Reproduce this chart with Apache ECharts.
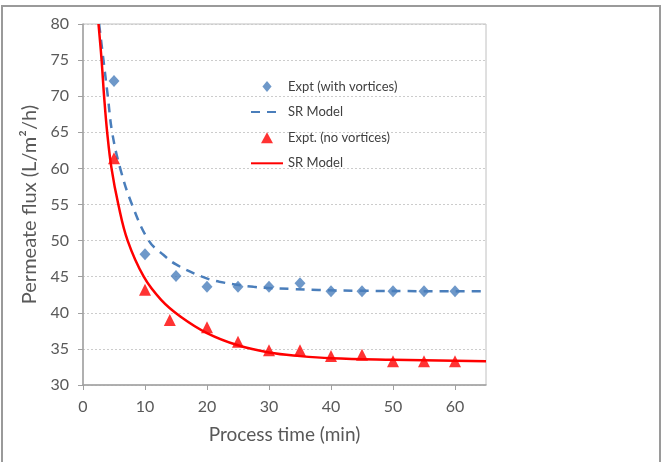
<!DOCTYPE html>
<html>
<head>
<meta charset="utf-8">
<script src="https://cdn.jsdelivr.net/npm/echarts@6/dist/echarts.min.js"></script>
<style>
  html, body { margin: 0; padding: 0; background: #fff; }
  #chart { width: 670px; height: 462px; }
</style>
</head>
<body>
<div id="chart"></div>
<script>
// experimental points (time in min, flux in L/m2/h)
const exptVortices = [[5, 72.1], [10, 48.1], [15, 45.1], [20, 43.6], [25, 43.6], [30, 43.6],
  [35, 44.1], [40, 43.0], [45, 43.0], [50, 43.0], [55, 43.0], [60, 43.0]];
const exptNoVortices = [[5, 61.4], [10, 43.2], [14, 39.0], [20, 38.0], [25, 36.0], [30, 34.8],
  [35, 34.8], [40, 34.0], [45, 34.2], [50, 33.3], [55, 33.3], [60, 33.3]];
// model curves
const modelVortices = [[2.6, 80], [3.3, 75], [4.0, 70], [4.7, 65], [6.0, 60], [7.9, 55],
  [10.6, 50], [13, 48.0], [15, 46.7], [19.2, 45.0], [22, 44.3], [27.5, 43.6], [33.5, 43.3],
  [38, 43.15], [45, 43.05], [55, 43.0], [65, 43.0]];
const modelNoVortices = [[2.5, 80], [3.0, 75], [3.4, 70], [3.9, 65], [4.6, 60], [5.7, 55],
  [7.2, 50], [9.8, 45], [12.6, 41.8], [15.7, 39.5], [20, 37.2], [25, 35.5], [30, 34.5],
  [35, 34.0], [40, 33.7], [50, 33.5], [65, 33.3]];
const seriesNames = ['Expt (with vortices)', 'SR Model', 'Expt. (no vortices)', 'SR Model '];

const blue = '#4a7ebb';
const red = '#ff0000';
const txt = '#595959';
const font = 'Lato';

const chart = echarts.init(document.getElementById('chart'));
chart.setOption({
  animation: false,
  textStyle: { fontFamily: font },
  graphic: [{
    type: 'rect',
    shape: { x: 2, y: 6, width: 658, height: 470 },
    style: { fill: 'none', stroke: '#9a9a9a', lineWidth: 2 }
  }],
  grid: {
    left: 83, right: 184, top: 24, bottom: 77,
    show: true, borderColor: '#c0c0c0', borderWidth: 1
  },
  legend: {
    orient: 'vertical',
    left: 245, top: 75,
    itemGap: 12.6,
    itemWidth: 32, itemHeight: 11,
    textStyle: { fontFamily: font, fontSize: 13, color: '#404040' },
    data: [
      { name: seriesNames[0], icon: 'path://M5,0 L10,6 L5,12 L0,6 Z' },
      { name: seriesNames[1], itemStyle: { opacity: 0 } },
      { name: seriesNames[2], icon: 'path://M6,0 L12,11 L0,11 Z' },
      { name: seriesNames[3], itemStyle: { opacity: 0 } }
    ]
  },
  xAxis: {
    type: 'value', min: 0, max: 65, interval: 10,
    name: 'Process time (min)', nameLocation: 'middle', nameGap: 40,
    nameTextStyle: { fontFamily: font, fontSize: 19, color: txt },
    axisLine: { show: true, lineStyle: { color: '#a0a0a0', width: 1.5 } },
    axisTick: { show: true, length: 5, lineStyle: { color: '#a0a0a0' } },
    axisLabel: { fontSize: 16, color: txt, margin: 14, showMaxLabel: false },
    splitLine: { show: false }
  },
  yAxis: {
    type: 'value', min: 30, max: 80, interval: 5,
    name: 'Permeate flux (L/m²/h)', nameLocation: 'middle', nameGap: 38,
    nameTextStyle: { fontFamily: font, fontSize: 20, color: txt },
    axisLine: { show: true, lineStyle: { color: '#a0a0a0', width: 1.5 } },
    axisTick: { show: true, length: 5, lineStyle: { color: '#a0a0a0' } },
    axisLabel: { fontSize: 16, color: txt, margin: 14 },
    splitLine: { show: true, lineStyle: { color: '#cccccc', type: [2, 2] } }
  },
  series: [
    {
      name: seriesNames[0], type: 'scatter', data: exptVortices,
      symbol: 'diamond', symbolSize: [11, 12], z: 4,
      itemStyle: { color: blue }
    },
    {
      name: seriesNames[1], type: 'line', data: modelVortices, smooth: 0.4,
      showSymbol: false, symbol: 'none', z: 3,
      lineStyle: { color: blue, width: 2.5, type: [9, 7] },
      itemStyle: { color: blue }
    },
    {
      name: seriesNames[2], type: 'scatter', data: exptNoVortices,
      symbol: 'triangle', symbolSize: [12, 12], z: 4,
      itemStyle: { color: red }
    },
    {
      name: seriesNames[3], type: 'line', data: modelNoVortices, smooth: 0.4,
      showSymbol: false, symbol: 'none', z: 3,
      lineStyle: { color: red, width: 2.5 },
      itemStyle: { color: red }
    }
  ]
});
</script>
</body>
</html>
